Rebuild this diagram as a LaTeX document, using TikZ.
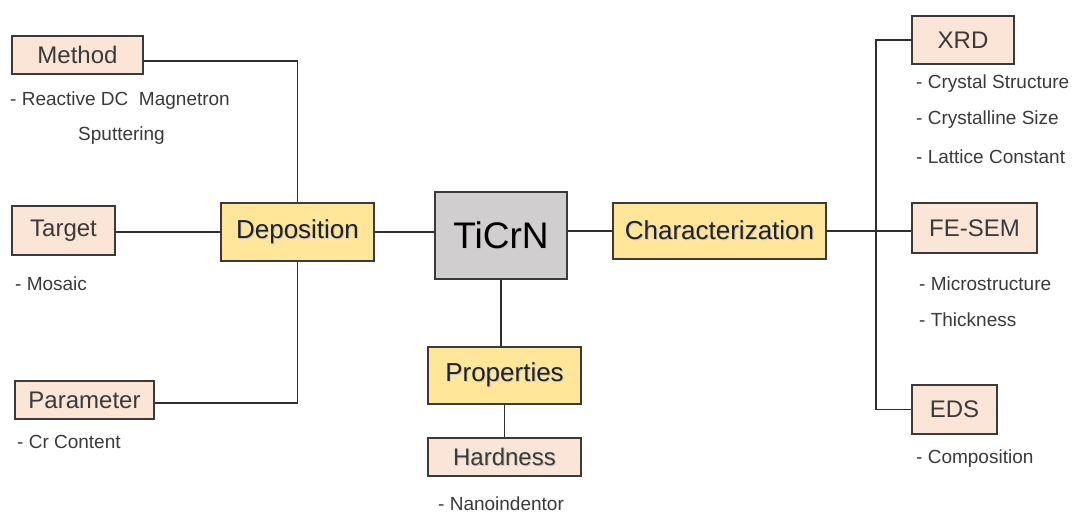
\documentclass[tikz,border=0pt]{standalone}
\usepackage{fontspec}
\setmainfont{Liberation Sans}
\begin{document}
\begin{tikzpicture}[x=1pt,y=-1pt,
  box/.style={draw=boxline, line width=1.3pt, rectangle, inner sep=0pt, text=txt},
  leaf/.style={box, fill=peach, font=\fontsize{24}{28}\selectfont},
  hub/.style={box, fill=sand, text=dark, font=\fontsize{26}{30}\selectfont},
  note/.style={anchor=west, inner sep=0pt, text=txt, font=\fontsize{19}{22}\selectfont},
  link/.style={draw=wire, line width=1.3pt}]
\definecolor{peach}{HTML}{FBE5D6}
\definecolor{sand}{HTML}{FFE699}
\definecolor{stone}{HTML}{D0CECE}
\definecolor{boxline}{HTML}{3A3A3A}
\definecolor{wire}{HTML}{2E2E2E}
\definecolor{txt}{HTML}{3A3A3A}
\definecolor{dark}{HTML}{222222}
\newcommand{\shadowtext}[1]{\makebox[0pt][l]{\raisebox{-1pt}{\hspace{1pt}\textcolor{black!22}{#1}}}#1}

\path[use as bounding box, fill=white] (0,0) rectangle (1080,515);

% central material
\node[box, fill=stone, text=black, minimum width=132pt, minimum height=87pt,
      font=\fontsize{37}{40}\selectfont] (ticrn) at (501,235.5) {\shadowtext{TiCrN}};

% main branches
\node[hub, minimum width=153pt, minimum height=58pt] (dep) at (297.5,232) {\shadowtext{Deposition}};
\node[hub, minimum width=213pt, minimum height=56pt] (char) at (719.5,231) {\shadowtext{Characterization}};
\node[hub, minimum width=153pt, minimum height=57pt] (prop) at (504.5,375.5) {\shadowtext{Properties}};

% deposition details
\node[leaf, minimum width=131pt, minimum height=38pt] (method) at (77.5,55) {Method};
\node[leaf, minimum width=103pt, minimum height=49pt] (target) at (63.5,230.5) {Target};
\node[leaf, minimum width=139pt, minimum height=38pt] (param) at (84.5,400) {Parameter};

% properties details
\node[leaf, minimum width=153pt, minimum height=38pt] (hard) at (504.5,457) {\shadowtext{Hardness}};

% characterization details
\node[leaf, minimum width=102pt, minimum height=48pt] (xrd) at (963,40) {XRD};
\node[leaf, minimum width=125pt, minimum height=50pt] (sem) at (974.5,228) {FE-SEM};
\node[leaf, minimum width=85pt, minimum height=49pt] (eds) at (954.5,409.5) {EDS};

% notes
\node[note] (n1) at (10,101) {- Reactive DC\ \ Magnetron};
\node[note] (n2) at (78,136) {Sputtering};
\node[note] (n3) at (15,284) {- Mosaic};
\node[note] (n4) at (17,442) {- Cr Content};
\node[note] (n5) at (438,504) {- Nanoindentor};
\node[note] (n6) at (916,84) {- Crystal Structure};
\node[note] (n7) at (916,120) {- Crystalline Size};
\node[note] (n8) at (916,157) {- Lattice Constant};
\node[note] (n9) at (919,284) {- Microstructure};
\node[note] (n10) at (919,320) {- Thickness};
\node[note] (n11) at (916,459) {- Composition};

% connectors
\coordinate (bus) at (876,228);
\draw[link] ([yshift=-6pt]method.east) -| (dep.north);
\draw[link] (dep.west -| target.east) -- (dep.west);
\draw[link] ([yshift=-3pt]param.east) -| (dep.south);
\draw[link] (dep.east) -- (dep.east -| ticrn.west);
\draw[link] (char.west -| ticrn.east) -- (char.west);
\draw[link] (char.east) -- (char.east -| sem.west);
\draw[link] (xrd.west) -- (xrd.west -| bus) -- (eds.west -| bus) -- (eds.west);
\draw[link] (ticrn.south) -- (ticrn.south |- prop.north);
\draw[link] (prop.south) -- (prop.south |- hard.north);
\end{tikzpicture}
\end{document}
